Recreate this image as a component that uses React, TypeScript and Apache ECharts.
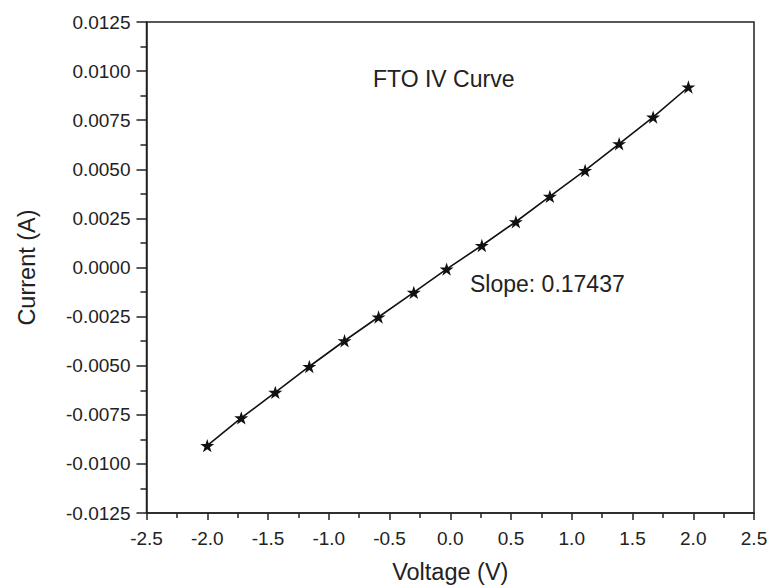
import React, { useEffect, useRef } from "react";
import * as echarts from "echarts";

const voltage = [-2.0, -1.72, -1.44, -1.16, -0.87, -0.59, -0.3, -0.03, 0.26, 0.54, 0.82, 1.11, 1.39, 1.67, 1.96];
const current = [-0.00907, -0.00766, -0.00636, -0.00504, -0.00373, -0.00252, -0.00127, -0.00008, 0.00112, 0.00233, 0.00362, 0.00494, 0.0063, 0.00766, 0.00919];
const chartTitle = "FTO IV Curve";
const slopeText = "Slope: 0.17437";
const xName = "Voltage (V)";
const yName = "Current (A)";

const STAR =
  "path://M50 0 L61.23 34.55 L97.55 34.55 L68.17 55.9 L79.39 90.45 L50 69.1 L20.61 90.45 L31.83 55.9 L2.45 34.55 L38.77 34.55 Z";

export default function App() {
  const ref = useRef<HTMLDivElement>(null);
  useEffect(() => {
    if (!ref.current) return;
    const chart = echarts.init(ref.current, null, { renderer: "svg" });
    const font = "'Liberation Sans', Arial, sans-serif";
    const lineCol = "#222";
    const common = {
      axisLine: { show: true, onZero: false, lineStyle: { color: lineCol, width: 1.5 } },
      splitLine: { show: false },
      nameLocation: "middle" as const,
      nameTextStyle: { fontFamily: font, fontSize: 23.5, color: lineCol },
    };
    chart.setOption({
      animation: false,
      backgroundColor: "#fff",
      grid: {
        left: 146.5,
        right: 15,
        top: 22,
        bottom: 75,
        show: true,
        borderColor: lineCol,
        borderWidth: 1.5,
        containLabel: false,
        outerBoundsMode: "none",
      },
      xAxis: {
        type: "value",
        min: -2.5,
        max: 2.5,
        interval: 0.5,
        name: xName,
        nameGap: 47,
        ...common,
        axisTick: { show: true, inside: false, length: 7, lineStyle: { color: lineCol, width: 1.5 } },
        minorTick: { show: true, splitNumber: 2, length: 5, lineStyle: { color: lineCol, width: 1.5 } },
        axisLabel: {
          fontFamily: font,
          fontSize: 19,
          color: lineCol,
          margin: 16,
          formatter: (v: number) => v.toFixed(1),
        },
      },
      yAxis: {
        type: "value",
        min: -0.0125,
        max: 0.0125,
        interval: 0.0025,
        name: yName,
        nameGap: 108,
        ...common,
        axisTick: { show: true, inside: false, length: 10, lineStyle: { color: lineCol, width: 1.5 } },
        minorTick: { show: true, splitNumber: 2, length: 6, lineStyle: { color: lineCol, width: 1.5 } },
        axisLabel: {
          fontFamily: font,
          fontSize: 19,
          color: lineCol,
          margin: 16,
          formatter: (v: number) => (Math.abs(v) < 1e-9 ? "0.0000" : v.toFixed(4)),
        },
      },
      graphic: [
        {
          type: "text",
          left: 373,
          top: 67.5,
          style: { text: chartTitle, fontFamily: font, fontSize: 23, fill: lineCol },
        },
        {
          type: "text",
          left: 470,
          top: 272.5,
          style: { text: slopeText, fontFamily: font, fontSize: 23, fill: lineCol },
        },
      ],
      series: [
        {
          type: "line",
          data: voltage.map((v, i) => [v, current[i]]),
          symbol: STAR,
          symbolSize: 14,
          symbolKeepAspect: true,
          showAllSymbol: true,
          lineStyle: { color: "#111", width: 1.6 },
          itemStyle: { color: "#111" },
        },
      ],
    });
    return () => chart.dispose();
  }, []);
  return <div ref={ref} style={{ width: 769, height: 588, position: "absolute", left: 0, top: 0 }} />;
}
